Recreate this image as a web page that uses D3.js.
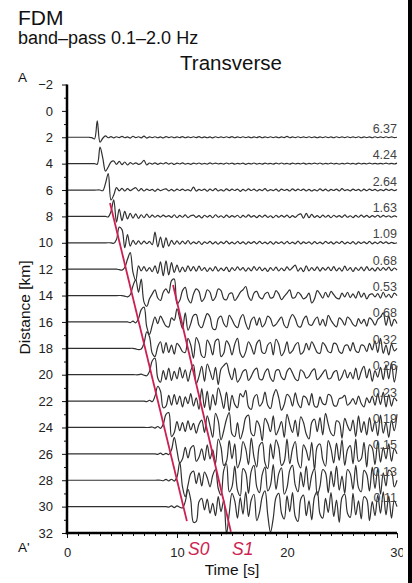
<!DOCTYPE html>
<html lang="en">
<head>
<meta charset="utf-8">
<title>FDM Transverse</title>
<script src="https://cdnjs.cloudflare.com/ajax/libs/d3/7.8.5/d3.min.js"></script>
<style>
body { margin: 0; background: #fff; }
svg { display: block; font-family: "Liberation Sans", Arial, Helvetica, sans-serif; }
</style>
</head>
<body>
<script>

// receiver distances (km) and the peak value printed at the right of each trace
var distances = [2, 4, 6, 8, 10, 12, 14, 16, 18, 20, 22, 24, 26, 28, 30];
var peakLabels = ["6.37", "4.24", "2.64", "1.63", "1.09", "0.68", "0.53", "0.68",
	"0.32", "0.26", "0.23", "0.19", "0.15", "0.13", "0.11"];

// start time (s) of each sampled trace, samples every dt seconds, amplitude in % of trace max
var onsets = [2.0, 2.5, 3.0, 3.5, 4.0, 4.5, 5.0, 5.5, 6.0, 6.5, 7.0, 7.5, 8.0, 8.5, 9.0];
var dt = 0.25;

var w02 = [0,-2,-10,100,-30,-6,8,-3, 4,-4,3,-2,5,-3,2,-5,
	6,-2,3,-4,7,-5,2,-2, 3,-3,2,-4,4,-2,3,-3,
	2,-2,4,-3,2,-2,3,-2, 4,-3,2,-3,2,-4,3,-2,
	2,-2,3,-2,4,-3,2,-2, 3,-2,2,-3,2,-2,4,-3,
	2,-2,3,-2,2,-3,2,-2, 5,-3,2,-2,3,-2,2,-2,
	3,-2,2,-3,2,-2,3,-2, 2,-3,3,-2,2,-2,3,-2,
	2,-2,3,-3,2,-2,2,-3, 3,-2,2,-2,3,-2,2,-2, 0];
var w04 = [0,-3,100,35,-45,-20,10,16, -4,14,-6,10,-8,6,-3,5,
	-4,3,20,-8,4,-3,5,-4, 3,-2,6,-3,4,-5,3,-2,
	5,-3,2,-4,3,-2,4,-3, 2,-3,5,-2,3,-2,2,-3,
	4,-2,3,-3,2,-2,3,-4, 2,-2,4,-3,2,-3,3,-2,
	2,-3,3,-2,4,-2,2,-3, 3,-2,2,-2,3,-3,2,-2,
	3,-2,4,-3,2,-2,3,-2, 2,-3,2,-2,3,-2,2,-3,
	3,-2,2,-2,3,-2,2,-2, 2,-2,3,-2,2,-2,3,-2, 0];
var w06 = [0,-4,40,100,-60,-30,15,-5, 10,-6,8,-4,6,14,-5,8,
	-6,5,-3,4,-8,6,-4,3, 7,-5,4,-6,5,-3,6,-4,
	3,-5,18,-6,4,-3,5,-7, 6,-4,8,-5,3,-6,7,-4,
	5,-3,6,-8,4,-5,7,-3, 5,-6,4,-4,8,-5,3,-4,
	6,-7,5,-3,4,-6,7,-4, 5,-3,6,-5,4,-6,3,-5,
	7,-4,5,-6,4,-3,6,-5, 8,-4,3,-5,6,-3,4,-6,
	5,-4,6,-3,4,-5,3,-4, 5,-3,4,-4,3,-3,2,-2, 0];
var w08 = [0,-3,30,100,-35,45,-25,30, -15,18,-10,15,-12,10,-8,14,
	-6,8,-5,6,-4,8,-3,5, -6,10,-8,6,-5,9,-7,4,
	8,-6,5,-9,7,-4,6,-8, 10,-5,4,-7,8,-6,5,-4,
	7,-8,6,-5,9,-4,5,-7, 6,-5,8,-6,4,-8,7,-5,
	6,-4,8,-7,5,-6,9,15, -10,18,-8,12,-6,5,-7,8,
	-5,6,-8,7,-4,5,-6,9, -5,4,-7,6,-5,8,-4,6,
	-6,5,-4,7,-5,6,-3,4, -5,3,-4,5,-3,2,0,0];
var w10 = [0,-3,20,95,80,-30,50,-20, 15,-10,12,-8,10,-5,8,-12,
	65,-25,35,-30,30,-20,15,-10, 12,-8,10,-6,14,-8,6,-5,
	8,-10,6,-4,9,-7,5,-8, 6,-5,10,-6,4,-7,8,-5,
	6,-8,5,-4,7,-6,9,-5, 4,-6,7,-8,5,-4,6,-7,
	8,-5,4,-6,10,-7,5,-4, 6,-8,7,-5,4,-6,8,-4,
	5,-7,6,-4,9,-6,4,-5, 7,-8,5,-4,6,-5,8,-6,
	4,-5,7,-4,6,-5,3,-4, 0];
var w12 = [0,-3,-6,10,60,100,-20,-70, 20,-10,15,-12,10,-15,20,-25,
	45,-40,50,-35,40,-20,25,-18, 12,-15,20,-10,15,-12,18,-8,
	10,-14,8,-10,16,-12,6,-9, 12,-15,10,-8,14,-6,9,-12,
	8,-10,15,-7,12,-9,6,-14, 10,-8,12,-11,7,-9,14,-6,
	10,25,-12,8,-15,20,-10,9, -8,14,-12,10,-6,12,-9,15,
	-10,8,-12,18,-8,10,-14,9, -7,12,-10,16,-8,6,-11,9,
	-8,10,-6,12,-9,7,-5,8, 0];
var w14 = [0,-3,-8,5, 60,95,20,100, -40,-65,-20,10, 35,-15,-30,20,
	40,15,90,100, -50,-30,30,50, -20,-45,10,40, 25,-35,-15,35,
	20,-30,-10,40, 30,-20,-25,10, 15,-30,-10,20, 35,55,-5,-30,
	15,25,-10,-20, 10,20,-15,-10, 30,10,-25,-5, 15,35,-15,-10,
	20,5,-20,-10, 15,-45,-20,30, 10,-15,20,-10, 25,5,-15,-20,
	15,-8,20,-12, 10,-15,25,-10, 15,-20,5,10, -8,12,-15,20,
	-10,8,-12,15, 0];
var w16 = [0,-4,5,-6, 20,75,90,-30, -75,-20,30,-10, 35,5,-25,-30,
	25,10,80,20, -40,55,-50,-10, 40,45,-20,-35, 10,50,30,-40,
	-45,20,35,-10, -30,40,15,-20, -35,20,45,-10, -45,10,30,-20,
	25,-30,-10,35, 20,-25,-15,10, 30,-20,-35,15, 45,20,-25,-30,
	15,35,-15,-20, 10,30,-20,15, -25,40,10,-15, -30,25,10,-20,
	30,15,-15,-25, 20,-10,15,-25, 25,10,-20,15, 30,55,-20,35,
	-25,15,-10,20, 0];
var w18 = [0,-3,-8,-4, 30,100,70,-30, -50,10,40,-30, 35,-25,20,-35,
	30,10,-20,-25, 60,20,-60,65, 30,-45,-55,50, 20,-40,45,55,
	-50,-30,45,20, -40,25,60,-30, -55,-20,40,10, -35,30,50,-25,
	-30,20,35,-40, 55,25,-45,-20, 40,-30,-15,20, 35,-35,-20,30,
	-10,40,10,-25, -30,35,15,-20, -25,30,25,-20, -30,15,20,-15,
	35,-15,-25,20, 15,-20,30,-10, 45,-25,60,-30, 20,-40,25,-15, 0];
var w20 = [0,4,-3,-6, 20,85,100,-20, -45,25,-30,40, -35,20,-25,45,
	-20,30,-40,25, 60,-55,-10,50, -40,65,20,-30, 45,-60,35,55,
	70,10,-30,40, -45,-20,20,30, -35,-10,25,40, -25,-30,15,35,
	-20,-40,25,30, -15,-30,20,40, 10,-25,-35,30, 15,-20,-10,20,
	35,-30,-15,10, 30,-25,-20,15, 25,-35,-10,30, -20,15,-25,40,
	-30,20,50,-20, 35,-40,25,-15, 45,-30,60,-25, 70,-45,55,0];
var w22 = [0,-3,5,-4, 30,90,60,-40, -30,35,-25,40, -20,30,-35,25,
	-15,45,-30,20, -50,75,-40,60, -55,40,-25,80, 30,-45,55,-60,
	35,-20,-40,45, 25,65,-35,-50, 20,40,-30,-10, 55,-25,-45,30,
	70,20,-55,-20, 40,25,-30,50, -15,-40,30,20, -25,45,-30,-35,
	25,-15,-20,40, 30,-25,-30,15, 20,35,-25,-10, 15,-20,30,-15,
	-35,20,-10,30, -25,45,-20,55, -35,40,-30,20, 0];
var w24 = [0,3,-4,6, -5,20,80,90, -55,-30,35,-20, 30,-25,40,-15,
	25,-35,20,45, -30,70,10,-60, 85,40,-75,-20, 50,90,-40,-55,
	30,-70,-20,60, 75,-35,-50,40, 10,-80,55,25, -25,70,-45,-10,
	35,-60,80,20, -30,45,-55,65, 30,-40,-70,30, 50,-25,60,-45,
	85,20,-35,-50, 40,30,-65,55, 10,-20,45,-55, 70,-30,35,-45,
	60,-25,40,-50, 75,-35,30,-60, 45,-20,80,-40, 55,-70,35,0];
var w26 = [0,-3,4,-5, 3,-4,25,100, 20,-55,-30,40, -25,35,50,-45,
	-20,30,-40,55, -30,25,-60,90, 40,-70,-45,80, -30,60,-85,-40,
	75,30,-65,95, -20,-80,50,70, -55,-90,60,-30, 85,40,-70,-45,
	90,-60,30,75, -50,-85,55,20, -40,70,-95,45, 60,-35,-75,80,
	30,-55,65,-40, 85,-70,25,50, -60,90,-45,-30, 70,-80,55,35,
	-65,75,-50,40, -30,60,-45,30, 0];
var w28 = [0,-3,5,-4, 6,-5,20,110, -40,-100,-30,40, 55,-20,45,-35,
	50,15,-40,30, 65,-50,-90,60, 100,-70,-40,85, -60,-95,70,45,
	-80,55,90,-40, -75,35,80,-65, -30,95,-55,40, 75,-85,-45,60,
	90,-30,-70,50, -40,85,-60,30, 70,-90,-35,65, 45,-75,55,-40,
	85,-60,25,-80, 65,40,-55,90, -45,-70,60,35, -65,80,-50,70,
	-85,45,-35,60, 50,-40, 0];
var w30 = [0,-3,4,-6, 5,-4,-8,30, 105,40,-95,-90, 30,50,-20,45,
	-40,20,-55,60, -30,40,-165,-40, 80,35,-70,55, -45,90,-60,40,
	75,-85,-35,60, 95,-50,-155,-70, 55,80,-40,-75, 65,-30,85,-60,
	-90,45,70,-55, 35,-80,60,90, -45,-70,50,-35, 85,-60,40,-95,
	55,75,-40,-65, 80,-50,35,-75, 60,45,-85,30, -55,70,-40,90,
	-50,65,-70,35, 0];

var waves = [w02, w04, w06, w08, w10, w12, w14, w16, w18, w20, w22, w24, w26, w28, w30];

// axis ticks
var timeTicks = [0, 10, 20, 30];
var timeMinor = [1,2,3,4,5,6,7,8,9,11,12,13,14,15,16,17,18,19,21,22,23,24,25,26,27,28,29];
var distTicks = [-2, 0, 2, 4, 6, 8, 10, 12, 14, 16, 18, 20, 22, 24, 26, 28, 30, 32];
var distMinor = [-1, 1, 3, 5, 7, 9, 11, 13, 15, 17, 19, 21, 23, 25, 27, 29, 31];

// picked phases: [time, distance] at both ends of each line
var phaseNames = ["S0", "S1"];
var phaseStart = [[3.91, 6.98], [9.64, 13.2]];
var phaseEnd = [[10.9, 31.1], [14.9, 31.9]];


var W = 412, H = 583;
var red = "#cc1f52";

var svg = d3.select("body")
	.append("svg")
	.attr("width", W)
	.attr("height", H);

var x = d3.scaleLinear().domain([0, 30]).range([67, 397]);
var y = d3.scaleLinear().domain([-2, 32]).range([84.5, 533]);
var gain = 0.0125; // km of offset for 1% of trace max

var line = d3.line()
	.x(function(p){ return x(p[0]); })
	.y(function(p){ return y(p[1]); })
	.curve(d3.curveCatmullRom.alpha(0.5));

// traces
var traces = svg.append("g");
waves.forEach(function(w, i){
	var d = distances[i];
	var pts = [[0, d], [onsets[i] - 0.5, d]];
	w.forEach(function(a, j){
		var t = onsets[i] + j * dt;
		if(t <= 30.001){
			pts.push([t, d - a * gain]);
		}
	});
	traces.append("path")
		.attr("d", line(pts))
		.attr("fill", "none")
		.attr("stroke", "#303030")
		.attr("stroke-width", 1.2)
		.attr("stroke-linejoin", "round");
});

// peak labels
svg.append("g")
	.selectAll("text")
	.data(peakLabels)
	.enter()
	.append("text")
	.attr("x", x(30))
	.attr("y", function(d, i){ return y(distances[i]) - 4.5; })
	.attr("text-anchor", "end")
	.attr("font-size", 12.5)
	.attr("fill", "#444")
	.text(function(d){ return d; });

// phase lines
svg.append("g")
	.selectAll("line")
	.data(phaseNames)
	.enter()
	.append("line")
	.attr("x1", function(d, i){ return x(phaseStart[i][0]); })
	.attr("y1", function(d, i){ return y(phaseStart[i][1]); })
	.attr("x2", function(d, i){ return x(phaseEnd[i][0]); })
	.attr("y2", function(d, i){ return y(phaseEnd[i][1]); })
	.attr("stroke", red)
	.attr("stroke-width", 1.8);

// axes
function fmt(d){ return d < 0 ? "\u2212" + (-d) : "" + d; }

var gy = svg.append("g").attr("transform", "translate(" + x(0) + ",0)");
gy.call(d3.axisLeft(y).tickValues(distTicks).tickSize(5).tickPadding(9).tickFormat(fmt));
gy.append("g").call(d3.axisLeft(y).tickValues(distMinor).tickSize(3).tickFormat(""));

var gx = svg.append("g").attr("transform", "translate(0," + y(32) + ")");
gx.call(d3.axisBottom(x).tickValues(timeTicks).tickSize(5).tickPadding(10).tickFormat(fmt));
gx.append("g").call(d3.axisBottom(x).tickValues(timeMinor).tickSize(3).tickFormat(""));

svg.selectAll(".domain").remove();
svg.selectAll(".tick line").attr("stroke", "#111").attr("stroke-width", 1);
svg.selectAll(".tick text")
	.attr("font-size", 13)
	.attr("fill", "#222")
	.style("font-family", "\"Liberation Sans\", Arial, sans-serif");

svg.append("line")
	.attr("x1", x(0)).attr("x2", x(0))
	.attr("y1", y(-2)).attr("y2", y(32) + 1.2)
	.attr("stroke", "#000").attr("stroke-width", 2.5);
svg.append("line")
	.attr("x1", x(0) - 1.2).attr("x2", x(30))
	.attr("y1", y(32)).attr("y2", y(32))
	.attr("stroke", "#000").attr("stroke-width", 2.5);

// titles and labels
svg.append("text").attr("x", 18).attr("y", 25).attr("font-size", 21).attr("fill", "#111").text("FDM");
svg.append("text").attr("x", 18).attr("y", 43.5).attr("font-size", 18).attr("fill", "#111").text("band\u2013pass 0.1\u20132.0 Hz");
svg.append("text").attr("x", 231).attr("y", 70).attr("font-size", 20.5).attr("fill", "#111")
	.attr("text-anchor", "middle").text("Transverse");
svg.append("text").attr("x", 18).attr("y", 82).attr("font-size", 13.5).attr("fill", "#111").text("A");
svg.append("text").attr("x", 18).attr("y", 552).attr("font-size", 13.5).attr("fill", "#111").text("A'");

svg.append("text")
	.attr("transform", "translate(29.5,307.5) rotate(-90)")
	.attr("text-anchor", "middle")
	.attr("font-size", 15.5)
	.attr("fill", "#111")
	.text("Distance [km]");
svg.append("text")
	.attr("x", 232).attr("y", 575)
	.attr("text-anchor", "middle")
	.attr("font-size", 15.5)
	.attr("fill", "#111")
	.text("Time [s]");

svg.append("g")
	.selectAll("text")
	.data(phaseNames)
	.enter()
	.append("text")
	.attr("x", function(d, i){ return i === 0 ? 188 : 232; })
	.attr("y", 555)
	.attr("font-size", 17.5)
	.attr("font-style", "italic")
	.attr("fill", red)
	.text(function(d){ return d; });

// page edge: white margin then a black strip
svg.append("rect").attr("x", 403).attr("y", 0).attr("width", 5).attr("height", H).attr("fill", "#fff");
svg.append("rect").attr("x", 408).attr("y", 0).attr("width", 4).attr("height", H).attr("fill", "#000");

</script>
</body>
</html>
